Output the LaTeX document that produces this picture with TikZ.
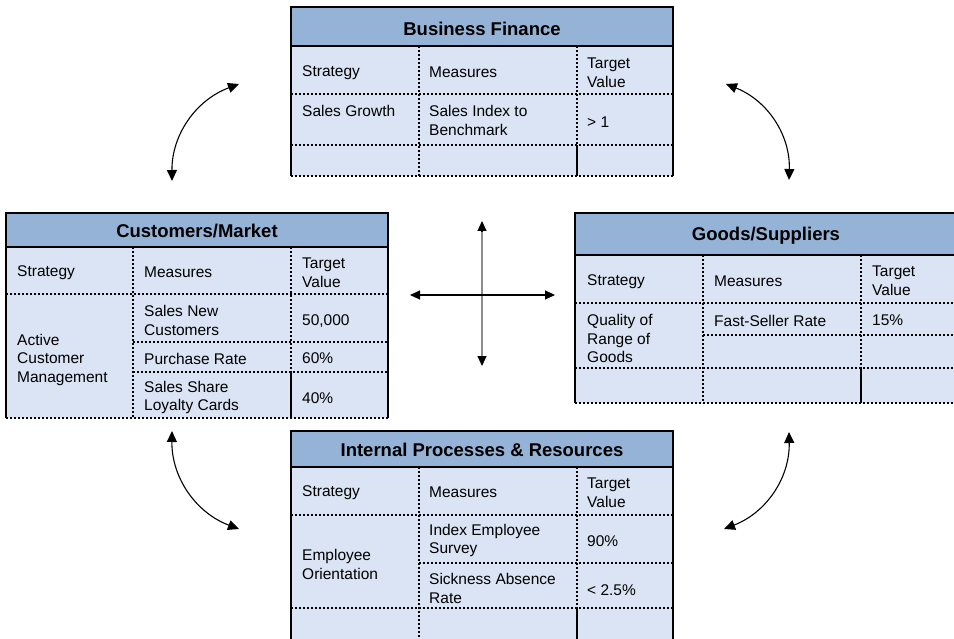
\documentclass[tikz,border=0pt]{standalone}
\usepackage{fontspec}
\setmainfont{Liberation Sans}
\usepackage{xcolor}
\usetikzlibrary{arrows.meta, positioning, calc}
\definecolor{kopf}{HTML}{95B3D7}
\definecolor{feld}{HTML}{DAE4F4}
\definecolor{achsgrau}{HTML}{8C8C8C}

\tikzset{
  rahmen/.style={line width=1.3pt, black},
  punktlinie/.style={line width=1.2pt, black, dash pattern=on 2pt off 2pt},
  titel/.style={font=\fontsize{18.5}{22}\selectfont\bfseries, inner sep=0pt},
  zelle/.style={font=\fontsize{15.5}{18.5}\selectfont, anchor=west, align=left, inner sep=0pt, yshift=-1.5pt},
  wechsel/.style={line width=1.1pt, {Triangle[length=11pt,width=10pt]}-{Triangle[length=11pt,width=10pt]}},
  kreuz/.style={line width=1.1pt, {Triangle[length=10pt,width=9pt]}-{Triangle[length=10pt,width=9pt]}},
  spitze/.style={line width=1.1pt, -{Triangle[length=10pt,width=9pt]}},
  achse/.style={draw=achsgrau, line width=2.4pt}
}

\begin{document}
\begin{tikzpicture}[x=1pt, y=-1pt]
    \useasboundingbox (0,0) rectangle (954,639);
    \clip (0,0) rectangle (954,639);

    % frames: x1/x2/top/head/last row/bottom/col a/col b
    \foreach \xa/\xb/\yt/\yh/\yl/\yb/\ca/\cb in {
      291/673/7/46/145/176/419/577,
      6/388/213/247/372/418/133/291,
      575/958/213/255/368/403/703/861,
      291/673/431/467/608/645/419/577} {
      \fill[feld] (\xa,\yh) rectangle (\xb,\yb);
      \fill[kopf] (\xa,\yt) rectangle (\xb,\yh);
      \draw[punktlinie] (\xa,\yb) -- (\xb,\yb);
      \draw[punktlinie] (\ca,\yh) -- (\ca,\yb);
      \draw[punktlinie] (\cb,\yh) -- (\cb,\yl);
      \draw[rahmen] (\cb,\yl) -- (\cb,\yb);
      \draw[rahmen] (\xa,\yb) -- (\xa,\yt) -- (\xb,\yt) -- (\xb,\yb);
      \draw[rahmen] (\xa,\yh) -- (\xb,\yh);
    }

    % row rules
    \foreach \xa/\xb/\y in {291/673/94, 291/673/145,
      6/388/294, 133/388/342, 133/388/372,
      575/958/303, 703/958/335, 575/958/368,
      291/673/515, 419/673/563, 291/673/608}
      \draw[punktlinie] (\xa,\y) -- (\xb,\y);

    % Business Finance
    \node[titel] (bfTitel) at (482,29) {Business Finance};
    \node[zelle] (bfStrat) at (302,71) {Strategy};
    \node[zelle] (bfMass) at (429,71) {Measures};
    \node[zelle] (bfZiel) at (587,71) {Target\\Value};
    \node[zelle] (bfS1) at (302,109) {Sales Growth};
    \node[zelle] (bfM1) at (429,119) {Sales Index to\\Benchmark};
    \node[zelle] (bfZ1) at (587,121) {> 1};

    % Customers/Market
    \node[titel] (cmTitel) at (197,231) {Customers/Market};
    \node[zelle] (cmStrat) at (17,271) {Strategy};
    \node[zelle] (cmMass) at (144,271) {Measures};
    \node[zelle] (cmZiel) at (302,271) {Target\\Value};
    \node[zelle] (cmS1) at (17,358) {Active\\Customer\\Management};
    \node[zelle] (cmM1) at (144,319) {Sales New\\Customers};
    \node[zelle] (cmZ1) at (302,320) {50,000};
    \node[zelle] (cmM2) at (144,357) {Purchase Rate};
    \node[zelle] (cmZ2) at (302,357) {60\%};
    \node[zelle] (cmM3) at (144,396) {Sales Share\\Loyalty Cards};
    \node[zelle] (cmZ3) at (302,397) {40\%};

    % Goods/Suppliers
    \node[titel] (gsTitel) at (766,236) {Goods/Suppliers};
    \node[zelle] (gsStrat) at (587,280) {Strategy};
    \node[zelle] (gsMass) at (714,280) {Measures};
    \node[zelle] (gsZiel) at (872,279) {Target\\Value};
    \node[zelle] (gsS1) at (587,337) {Quality of\\Range of\\Goods};
    \node[zelle] (gsM1) at (714,319) {Fast-Seller Rate};
    \node[zelle] (gsZ1) at (872,319) {15\%};

    % Internal Processes & Resources
    \node[titel] (ipTitel) at (482,450) {Internal Processes \& Resources};
    \node[zelle] (ipStrat) at (302,491) {Strategy};
    \node[zelle] (ipMass) at (429,491) {Measures};
    \node[zelle] (ipZiel) at (587,491) {Target\\Value};
    \node[zelle] (ipS1) at (302,563) {Employee\\Orientation};
    \node[zelle] (ipM1) at (429,539) {Index Employee\\Survey};
    \node[zelle] (ipZ1) at (587,540) {90\%};
    \node[zelle] (ipM2) at (429,587) {Sickness Absence\\Rate};
    \node[zelle] (ipZ2) at (587,589) {< 2.5\%};

    % arrows
    \coordinate (lo1) at (172,181);
    \coordinate (lo2) at (239,84);
    \coordinate (ro1) at (726,84);
    \coordinate (ro2) at (789,180);
    \coordinate (lu1) at (172,431);
    \coordinate (lu2) at (239,529);
    \coordinate (ru1) at (789,432);
    \coordinate (ru2) at (724,529);
    \draw[wechsel] (lo1) to[bend left=35] (lo2);
    \draw[wechsel] (ro1) to[bend left=35] (ro2);
    \draw[wechsel] (lu1) to[bend right=35] (lu2);
    \draw[wechsel] (ru1) to[bend left=35] (ru2);

    \coordinate (kl) at (410,295);
    \coordinate (kr) at (555,295);
    \coordinate (ko) at (482,221);
    \coordinate (ku) at (482,366);
    \draw[achse] ($(ko)!9pt!(ku)$) -- ($(ku)!9pt!(ko)$);
    \draw[spitze] ($(ko)!10pt!(ku)$) -- (ko);
    \draw[spitze] ($(ku)!10pt!(ko)$) -- (ku);
    \draw[kreuz] (kl) -- (kr);
  \end{tikzpicture}
\end{document}
